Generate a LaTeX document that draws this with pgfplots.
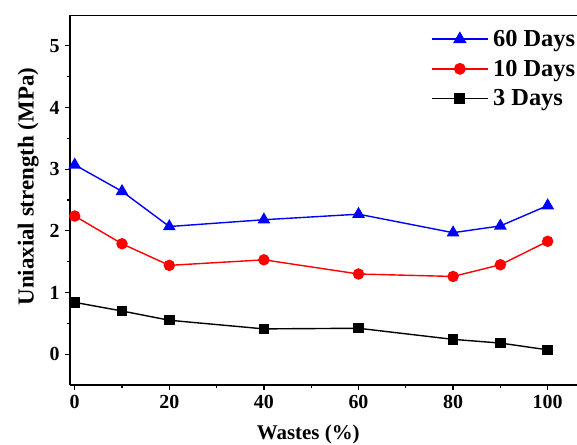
\documentclass[border=0pt]{standalone}
\usepackage{fontspec}
\setmainfont{Liberation Serif}
\usepackage{pgfplots}
\pgfplotsset{compat=1.18}
\usetikzlibrary{calc}
\begin{document}
\begin{tikzpicture}
\begin{axis}[
 scale only axis, width=507bp, height=370bp,
 xmin=-1, xmax=106.2, ymin=-0.5, ymax=5.5,
 axis x line*=bottom, axis y line*=left,
 axis line style={-, line width=1.5bp},
 xtick={0,20,...,100}, minor xtick={10,30,50,70,90},
 ytick={0,1,2,3,4,5}, minor ytick={0.5,1.5,2.5,3.5,4.5},
 xtick pos=bottom, ytick pos=left,
 tick align=outside, major tick length=5bp, minor tick length=3bp,
 every tick/.style={line width=1.2bp, black},
 every minor tick/.style={line width=1.2bp, black},
 ticklabel style={font=\fontsize{20}{20}\selectfont\bfseries},
 xticklabel style={yshift=-2bp},
 yticklabel style={xshift=-2bp},
 /pgf/number format/assume math mode=true,
 xlabel={Wastes (\%)}, ylabel={Uniaxial strength (MPa)},
 xlabel style={font=\fontsize{21}{21}\selectfont\bfseries, at={(ticklabel cs:0.47)}, yshift=-9bp},
 ylabel style={font=\fontsize{23}{23}\selectfont\bfseries, at={(ticklabel cs:0.536)}, yshift=4bp},
 legend style={at={(rel axis cs:0.705,0.97)}, anchor=north west, draw=none, fill=none,
   font=\fontsize{24.5}{24.5}\selectfont\bfseries, row sep=8bp,
   nodes={inner xsep=4bp}},
 legend cell align=left,
 legend image code/.code={\draw[line width=1.8bp, mark repeat=2,mark phase=2] plot coordinates {(0cm,0cm) (1.0cm,0cm) (2.0cm,0cm)};},
]
\addplot[blue, line width=1.4bp, mark=triangle*, mark size=6bp, mark options={solid, fill=blue}] coordinates {
(0,3.07) (10,2.64) (20,2.07) (40,2.18) (60,2.27) (80,1.97) (90,2.08) (100,2.41)};
\addlegendentry{60 Days}
\addplot[red, line width=1.4bp, mark=*, mark size=5bp, mark options={solid, fill=red}] coordinates {
(0,2.24) (10,1.79) (20,1.44) (40,1.53) (60,1.30) (80,1.26) (90,1.45) (100,1.83)};
\addlegendentry{10 Days}
\addplot[black, line width=1.4bp, mark=square*, mark size=4.5bp, mark options={solid, fill=black}] coordinates {
(0,0.84) (10,0.70) (20,0.55) (40,0.41) (60,0.42) (80,0.24) (90,0.18) (100,0.07)};
\addlegendentry{3 Days}
\draw[line width=1.5bp] (rel axis cs:0,1) -- (rel axis cs:1,1);
\end{axis}
\pgfresetboundingbox
\path[use as bounding box] ($(current axis.south west)+(-70bp,-60bp)$) rectangle ($(current axis.north east)+(0bp,15bp)$);
\end{tikzpicture}
\end{document}
